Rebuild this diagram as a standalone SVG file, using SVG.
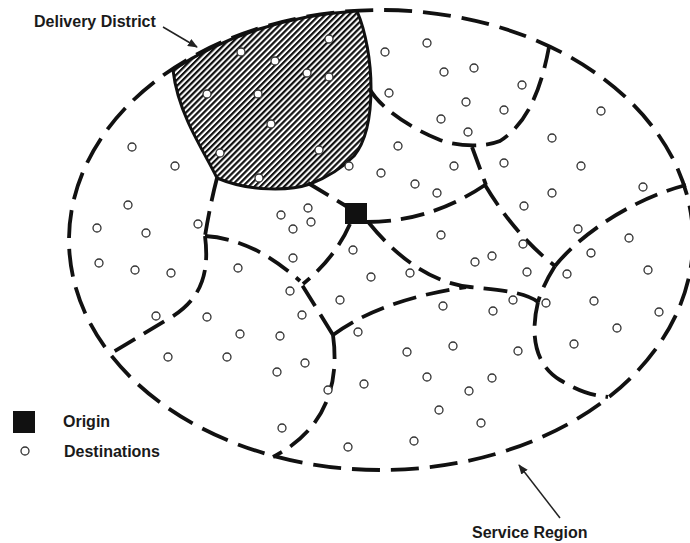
<svg xmlns="http://www.w3.org/2000/svg" width="690" height="543" viewBox="0 0 690 543">
<style>
.dash{fill:none;stroke:#111;stroke-width:3.8;stroke-dasharray:24 10;stroke-linecap:butt}
.ell{fill:none;stroke:#111;stroke-width:3.8;stroke-dasharray:28 11}
.d{fill:#fff;stroke:#333;stroke-width:1.3}
.lbl{font-family:"Liberation Sans",Arial,sans-serif;font-weight:bold;font-size:16px;fill:#1a1a1a}
.arr{stroke:#222;stroke-width:1.5;fill:none}
</style>
<defs>
<pattern id="hatch" width="8" height="4.2" patternUnits="userSpaceOnUse" patternTransform="rotate(-45)">
<rect width="8" height="4.2" fill="#fff"/>
<rect width="8" height="2.2" fill="#111"/>
</pattern>
<marker id="ah" markerWidth="10" markerHeight="8" refX="9" refY="4" orient="auto" markerUnits="userSpaceOnUse">
<path d="M0,0 L10,4 L0,8 Z" fill="#222"/>
</marker>
</defs>
<rect width="690" height="543" fill="#fff"/>

<g id="service-region">
<ellipse class="ell" cx="381" cy="240" rx="312" ry="230"/>
</g>

<g id="delivery-district">
<path d="M173,70 A312,230 0 0 1 357,11 C366,32 371,62 371,88 C371,115 367,140 354,156 C341,169 326,178 310,184 C290,191 250,192 217,178 C208,160 196,140 188,122 C180,104 175,88 173,70 Z" fill="url(#hatch)" stroke="#111" stroke-width="3"/>
</g>

<g id="connectors">
<path class="dash" d="M369,88 C380,108 410,128 440,140 C460,147 485,147 500,141 C525,125 540,95 549,47"/>
<path class="dash" d="M472,147 L486,185"/>
<path class="dash" d="M367,222 Q430,222 485,185"/>
<path class="dash" d="M485,185 Q515,235 555,266"/>
<path class="dash" d="M555,266 C580,235 630,200 686,185"/>
<path class="dash" d="M555,266 Q543,285 538,302"/>
<path class="dash" d="M369,223 C395,255 430,283 470,287 C500,290 525,292 538,302"/>
<path class="dash" d="M333,335 Q380,300 466,287"/>
<path class="dash" d="M538,302 C530,335 535,365 560,380 S595,395 608,397"/>
<path class="dash" d="M333,335 C340,385 325,430 273,457"/>
<path class="dash" d="M333,335 L299,280"/>
<path class="dash" d="M205,236 C235,238 265,250 300,281"/>
<path class="dash" d="M350,224 Q335,258 303,284"/>
<path class="dash" d="M308,183 L346,206"/>
<path class="dash" d="M217,178 Q210,205 205,236"/>
<path class="dash" d="M205,236 C210,275 200,300 170,318 S130,342 113,352"/>
</g>

<g id="origin">
<rect x="345" y="203" width="22" height="21" fill="#111"/>
</g>

<g id="destinations">
<circle class="d" cx="241" cy="52" r="4"/><circle class="d" cx="275" cy="61" r="4"/><circle class="d" cx="329" cy="39" r="4"/>
<circle class="d" cx="307" cy="73" r="4"/><circle class="d" cx="329" cy="77" r="4"/><circle class="d" cx="207" cy="94" r="4"/>
<circle class="d" cx="258" cy="94" r="4"/><circle class="d" cx="271" cy="124" r="4"/><circle class="d" cx="220" cy="153" r="4"/>
<circle class="d" cx="319" cy="150" r="4"/><circle class="d" cx="259" cy="178" r="4"/>
<circle class="d" cx="132" cy="147" r="4"/><circle class="d" cx="175" cy="166" r="4"/><circle class="d" cx="128" cy="205" r="4"/>
<circle class="d" cx="97" cy="228" r="4"/><circle class="d" cx="146" cy="233" r="4"/><circle class="d" cx="99" cy="263" r="4"/>
<circle class="d" cx="135" cy="270" r="4"/><circle class="d" cx="171" cy="273" r="4"/><circle class="d" cx="198" cy="224" r="4"/>
<circle class="d" cx="281" cy="215" r="4"/><circle class="d" cx="308" cy="208" r="4"/><circle class="d" cx="311" cy="222" r="4"/>
<circle class="d" cx="293" cy="229" r="4"/><circle class="d" cx="238" cy="268" r="4"/><circle class="d" cx="293" cy="258" r="4"/>
<circle class="d" cx="385" cy="52" r="4"/><circle class="d" cx="427" cy="43" r="4"/><circle class="d" cx="444" cy="72" r="4"/>
<circle class="d" cx="474" cy="68" r="4"/><circle class="d" cx="522" cy="85" r="4"/><circle class="d" cx="389" cy="93" r="4"/>
<circle class="d" cx="466" cy="102" r="4"/><circle class="d" cx="504" cy="110" r="4"/><circle class="d" cx="441" cy="119" r="4"/>
<circle class="d" cx="468" cy="132" r="4"/><circle class="d" cx="601" cy="111" r="4"/><circle class="d" cx="398" cy="146" r="4"/>
<circle class="d" cx="552" cy="138" r="4"/><circle class="d" cx="349" cy="166" r="4"/><circle class="d" cx="381" cy="173" r="4"/>
<circle class="d" cx="454" cy="166" r="4"/><circle class="d" cx="504" cy="163" r="4"/><circle class="d" cx="581" cy="166" r="4"/>
<circle class="d" cx="415" cy="184" r="4"/><circle class="d" cx="437" cy="193" r="4"/><circle class="d" cx="552" cy="193" r="4"/>
<circle class="d" cx="643" cy="187" r="4"/><circle class="d" cx="524" cy="206" r="4"/>
<circle class="d" cx="441" cy="235" r="4"/><circle class="d" cx="578" cy="229" r="4"/><circle class="d" cx="629" cy="238" r="4"/>
<circle class="d" cx="353" cy="250" r="4"/><circle class="d" cx="523" cy="244" r="4"/><circle class="d" cx="591" cy="253" r="4"/>
<circle class="d" cx="475" cy="262" r="4"/><circle class="d" cx="492" cy="256" r="4"/><circle class="d" cx="371" cy="277" r="4"/>
<circle class="d" cx="410" cy="273" r="4"/><circle class="d" cx="527" cy="272" r="4"/><circle class="d" cx="567" cy="274" r="4"/>
<circle class="d" cx="648" cy="270" r="4"/><circle class="d" cx="290" cy="291" r="4"/><circle class="d" cx="340" cy="300" r="4"/>
<circle class="d" cx="443" cy="306" r="4"/><circle class="d" cx="493" cy="311" r="4"/><circle class="d" cx="513" cy="300" r="4"/>
<circle class="d" cx="546" cy="303" r="4"/><circle class="d" cx="594" cy="301" r="4"/><circle class="d" cx="659" cy="312" r="4"/>
<circle class="d" cx="358" cy="332" r="4"/><circle class="d" cx="617" cy="328" r="4"/><circle class="d" cx="407" cy="352" r="4"/>
<circle class="d" cx="453" cy="346" r="4"/><circle class="d" cx="518" cy="351" r="4"/><circle class="d" cx="574" cy="344" r="4"/>
<circle class="d" cx="156" cy="316" r="4"/><circle class="d" cx="207" cy="317" r="4"/><circle class="d" cx="240" cy="334" r="4"/>
<circle class="d" cx="280" cy="336" r="4"/><circle class="d" cx="168" cy="357" r="4"/><circle class="d" cx="227" cy="357" r="4"/>
<circle class="d" cx="305" cy="363" r="4"/><circle class="d" cx="277" cy="372" r="4"/><circle class="d" cx="302" cy="315" r="4"/>
<circle class="d" cx="427" cy="377" r="4"/><circle class="d" cx="492" cy="378" r="4"/><circle class="d" cx="364" cy="384" r="4"/>
<circle class="d" cx="469" cy="391" r="4"/><circle class="d" cx="328" cy="390" r="4"/><circle class="d" cx="439" cy="410" r="4"/>
<circle class="d" cx="481" cy="423" r="4"/><circle class="d" cx="282" cy="428" r="4"/><circle class="d" cx="414" cy="441" r="4"/>
<circle class="d" cx="348" cy="447" r="4"/>
</g>

<g id="label-delivery-district">
<text class="lbl" x="34" y="27">Delivery District</text>
<line class="arr" x1="163" y1="27" x2="197" y2="47" marker-end="url(#ah)"/>
</g>

<g id="label-service-region">
<text class="lbl" x="472" y="538">Service Region</text>
<line class="arr" x1="560" y1="518" x2="519" y2="465" marker-end="url(#ah)"/>
</g>

<g id="legend">
<rect x="13" y="411" width="22" height="22" fill="#111"/>
<text class="lbl" x="63" y="427">Origin</text>
<circle class="d" cx="25" cy="451" r="4"/>
<text class="lbl" x="64" y="457">Destinations</text>
</g>
</svg>
